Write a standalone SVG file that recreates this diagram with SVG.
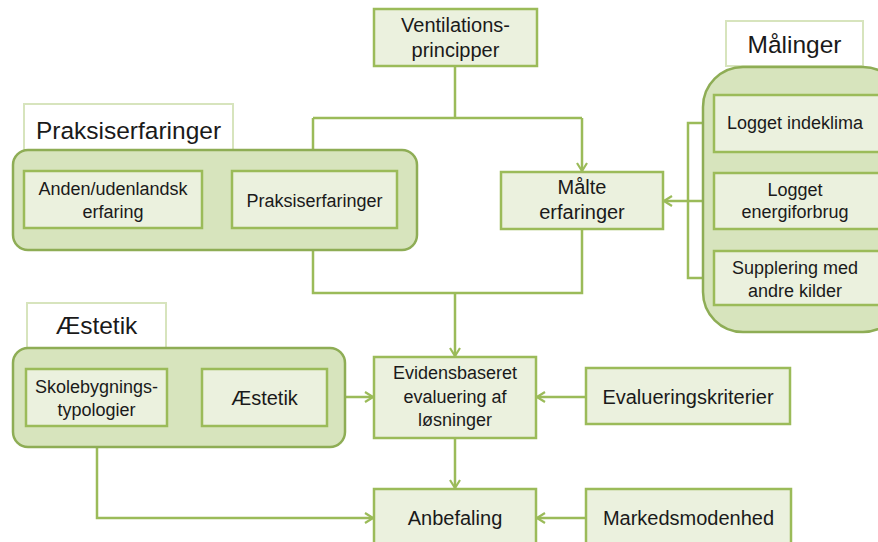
<svg xmlns="http://www.w3.org/2000/svg" width="878" height="542" viewBox="0 0 878 542">
<style>
.box{fill:#EBF1DE;stroke:#9BBB59;stroke-width:2.5}
.cont{fill:#D7E4BD;stroke:#8EAD55;stroke-width:2.5}
.title{fill:#FFFFFF;stroke:#D7E4BD;stroke-width:2}
.t{font-family:"Liberation Sans",Arial,sans-serif;fill:#1a1a1a;text-anchor:middle}
.s{font-size:18px}
.m{font-size:20px}
.l{font-size:24.5px}
.c{fill:none;stroke:#9BBB59;stroke-width:2.5}
</style>
<defs>
<marker id="ah" viewBox="0 0 10 12" refX="9" refY="6" markerWidth="10" markerHeight="12" markerUnits="userSpaceOnUse" orient="auto">
<path d="M1,1 L9,6 L1,11" fill="none" stroke="#9BBB59" stroke-width="2.2"/>
</marker>
</defs>
<rect width="878" height="542" fill="#FFFFFF"/>

<g id="connectors">
<path class="c" d="M455,66 V118"/>
<path class="c" d="M313,118 H582"/>
<path class="c" d="M313,118 V170" marker-end="url(#ah)"/>
<path class="c" d="M582,118 V171" marker-end="url(#ah)"/>
<path class="c" d="M202,200 H231" marker-end="url(#ah)"/>
<path class="c" d="M313,228 V293 H582 V229"/>
<path class="c" d="M455,293 V356" marker-end="url(#ah)"/>
<path class="c" d="M714,123 H688 V278 H714"/>
<path class="c" d="M714,201 H664" marker-end="url(#ah)"/>
<path class="c" d="M167,398 H201" marker-end="url(#ah)"/>
<path class="c" d="M327,397 H373" marker-end="url(#ah)"/>
<path class="c" d="M586,397 H537" marker-end="url(#ah)"/>
<path class="c" d="M455,438 V488" marker-end="url(#ah)"/>
<path class="c" d="M97,426 V518 H373" marker-end="url(#ah)"/>
<path class="c" d="M586,518 H537" marker-end="url(#ah)"/>
</g>

<g id="ventilationsprincipper">
<rect class="box" x="374" y="9" width="163" height="57"/>
<text class="t m" x="455.5" y="32">Ventilations-</text>
<text class="t m" x="455.5" y="57">principper</text>
</g>

<g id="praksis-group">
<rect class="title" x="24" y="104" width="209" height="46"/>
<text class="t l" x="128.5" y="139">Praksiserfaringer</text>
<rect class="cont" x="13" y="150" width="404" height="100" rx="15"/>
</g>
<g id="anden">
<rect class="box" x="24" y="171" width="178" height="57"/>
<text class="t s" x="113" y="195">Anden/udenlandsk</text>
<text class="t s" x="113" y="218">erfaring</text>
</g>
<g id="praksiserfaringer">
<rect class="box" x="232" y="171" width="165" height="57"/>
<text class="t s" x="314.5" y="207">Praksiserfaringer</text>
</g>

<g id="maalte">
<rect class="box" x="501" y="172" width="162" height="57"/>
<text class="t m" x="582" y="194">Målte</text>
<text class="t m" x="582" y="219">erfaringer</text>
</g>

<g id="maalinger-group">
<rect class="title" x="726" y="21" width="137" height="45"/>
<text class="t l" x="794.5" y="53">Målinger</text>
<rect class="cont" x="703" y="67" width="200" height="265" rx="40"/>
</g>
<g id="logget-indeklima">
<rect class="box" x="714" y="95" width="170" height="57"/>
<text class="t s" x="795" y="129">Logget indeklima</text>
</g>
<g id="logget-energi">
<rect class="box" x="714" y="173" width="170" height="56"/>
<text class="t s" x="795" y="196">Logget</text>
<text class="t s" x="795" y="218">energiforbrug</text>
</g>
<g id="supplering">
<rect class="box" x="714" y="251" width="170" height="54"/>
<text class="t s" x="795" y="274">Supplering med</text>
<text class="t s" x="795" y="297">andre kilder</text>
</g>

<g id="aestetik-group">
<rect class="title" x="27" y="303" width="139" height="45"/>
<text class="t l" x="96.5" y="334">Æstetik</text>
<rect class="cont" x="13" y="348" width="332" height="99" rx="15"/>
</g>
<g id="skolebygnings">
<rect class="box" x="26" y="369" width="141" height="57"/>
<text class="t s" x="96.5" y="393">Skolebygnings-</text>
<text class="t s" x="96.5" y="416">typologier</text>
</g>
<g id="aestetik">
<rect class="box" x="202" y="369" width="125" height="57"/>
<text class="t m" x="264.5" y="405">Æstetik</text>
</g>

<g id="evidens">
<rect class="box" x="374" y="357" width="162" height="81"/>
<text class="t s" x="455" y="379">Evidensbaseret</text>
<text class="t s" x="455" y="403">evaluering af</text>
<text class="t s" x="455" y="426">løsninger</text>
</g>
<g id="evalueringskriterier">
<rect class="box" x="586" y="368" width="204" height="56"/>
<text class="t m" x="688" y="404">Evalueringskriterier</text>
</g>

<g id="anbefaling">
<rect class="box" x="374" y="489" width="162" height="70"/>
<text class="t m" x="455" y="525">Anbefaling</text>
</g>
<g id="markedsmodenhed">
<rect class="box" x="586" y="489" width="205" height="70"/>
<text class="t m" x="688.5" y="525">Markedsmodenhed</text>
</g>
</svg>
